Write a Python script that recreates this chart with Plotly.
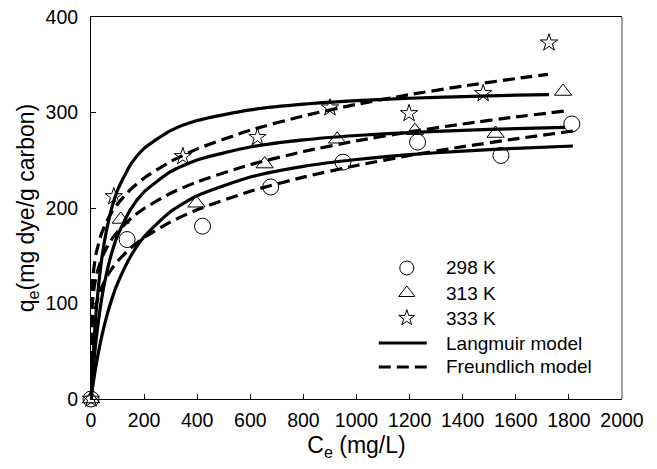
import plotly.graph_objects as go

# Experimental data (Ce mg/L, qe mg/g)
ce_298 = [0, 136, 420, 677, 949, 1230, 1544, 1811]
qe_298 = [0, 167, 181, 222, 248, 269, 255, 288]
ce_313 = [0, 112, 397, 654, 927, 1220, 1524, 1778]
qe_313 = [0, 188, 205, 246, 272, 281, 278, 322]
ce_333 = [0, 86, 346, 627, 900, 1198, 1477, 1725]
qe_333 = [0, 212, 254, 274, 305, 299, 320, 373]

# Model curves
cL = [0, 5, 10, 20, 40, 60, 80, 100, 150, 200, 300, 400, 600, 800, 1000, 1200, 1400, 1600]
L298 = [0, 10.2, 19.6, 36.7, 65.0, 87.5, 105.9, 121.1, 149.8, 169.9, 196.3, 212.8, 232.4, 243.6, 250.8, 255.9, 259.6, 262.5]
L313 = [0, 19.0, 35.7, 63.7, 104.8, 133.5, 154.8, 171.1, 199.1, 216.9, 238.1, 250.3, 263.9, 271.3, 275.9, 279.0, 281.3, 283.1]
L333 = [0, 29.8, 54.7, 93.7, 145.8, 178.9, 201.8, 218.7, 246, 262.4, 281.1, 291.6, 302.8, 308.7, 312.4, 314.9, 316.7, 318.1]
L_end_c = [1815, 1785, 1725]   # 298, 313, 333
L_end_q = [264.9, 284.4, 318.8]

cF = [0, 1, 2, 5, 10, 20, 40, 60, 80, 100, 150, 200, 300, 400, 600, 800, 1000, 1200, 1400, 1600]
F298 = [0, 50.1, 58.7, 72.5, 85.0, 99.6, 116.8, 128.2, 137.0, 144.2, 158.2, 169.0, 185.5, 198.2, 217.5, 232.3, 244.5, 255.0, 264.2, 272.4]
F313 = [0, 73.5, 83.8, 99.5, 113.4, 129.3, 147.3, 159.0, 167.9, 175.1, 189.0, 199.5, 215.4, 227.4, 245.4, 259.1, 270.3, 279.7, 288.0, 295.3]
F333 = [0, 89.7, 101.5, 119.6, 135.4, 153.3, 173.5, 186.5, 196.4, 204.3, 219.7, 231.3, 248.7, 261.9, 281.5, 296.4, 308.5, 318.7, 327.6, 335.5]
F_end_c = [1815, 1785, 1721]   # 298, 313, 333
F_end_q = [280.6, 301.5, 340]

legend_labels = ["298 K", "313 K", "333 K", "Langmuir model", "Freundlich model"]

FONT = "Liberation Sans, Arial, sans-serif"
DASH = "12px,6px"
LW = 3.2
fig = go.Figure()

L_curves = [L298, L313, L333]
F_curves = [F298, F313, F333]
for i in range(3):
    fig.add_trace(go.Scatter(x=cL + [L_end_c[i]], y=L_curves[i] + [L_end_q[i]], mode="lines",
                             line=dict(color="black", width=LW, shape="spline", smoothing=0.6),
                             showlegend=False, hoverinfo="skip"))
    fig.add_trace(go.Scatter(x=cF + [F_end_c[i]], y=F_curves[i] + [F_end_q[i]], mode="lines",
                             line=dict(color="black", width=LW, dash=DASH, shape="spline", smoothing=0.6),
                             showlegend=False, hoverinfo="skip"))

symbols = ["circle-open", "triangle-up-open", "star-open"]
sizes = [16, 15, 13]
for ce, qe, sym, sz in zip([ce_298, ce_313, ce_333], [qe_298, qe_313, qe_333], symbols, sizes):
    fig.add_trace(go.Scatter(x=ce, y=qe, mode="markers", cliponaxis=False, showlegend=False,
                             marker=dict(symbol=sym, size=sz, color="black", line=dict(width=1))))

# Hand-drawn legend on an overlay axis spanning the plot area (0..1)
leg_y = [0.343, 0.2775, 0.212, 0.1466, 0.0838]
mk_x = 0.5947
ln_x0, ln_x1 = 0.542, 0.6324
txt_x = 0.664
for k in range(3):
    fig.add_trace(go.Scatter(x=[mk_x], y=[leg_y[k]], xaxis="x2", yaxis="y2", mode="markers",
                             showlegend=False, hoverinfo="skip",
                             marker=dict(symbol=symbols[k], size=[14, 14, 12][k], color="black",
                                         line=dict(width=1))))
shapes = [dict(type="line", xref="paper", yref="paper", x0=1, x1=1, y0=0, y1=1,
               line=dict(color="gray", width=1.5))]
for k, dash in zip([3, 4], ["solid", DASH]):
    shapes.append(dict(type="line", xref="x2", yref="y2", x0=ln_x0, x1=ln_x1, y0=leg_y[k], y1=leg_y[k],
                       line=dict(color="black", width=LW, dash=dash)))
annotations = [dict(x=txt_x, y=leg_y[k], xref="x2", yref="y2", text=legend_labels[k], showarrow=False,
                    xanchor="left", yanchor="middle", font=dict(size=19, family=FONT, color="black"))
               for k in range(5)]

fig.update_layout(
    width=657, height=469,
    margin=dict(l=91, r=35, t=17, b=70),
    paper_bgcolor="white", plot_bgcolor="white",
    font=dict(family=FONT, size=19, color="black"),
    showlegend=False,
    xaxis=dict(range=[0, 2000], tickvals=list(range(0, 2001, 200)), ticks="inside", ticklen=5,
               tickcolor="black", showline=True, linecolor="black", linewidth=1, mirror=True,
               showgrid=False, zeroline=False, ticklabelstandoff=4, automargin=False,
               tickfont=dict(size=19.5),
               title=dict(text="C<sub>e</sub> (mg/L)", font=dict(size=23), standoff=6)),
    yaxis=dict(range=[0, 400], tickvals=[0, 100, 200, 300, 400], ticks="inside", ticklen=5,
               tickcolor="black", showline=True, linecolor="black", linewidth=1, mirror=False,
               showgrid=False, zeroline=False, ticklabelstandoff=8, automargin=False,
               tickfont=dict(size=19.5),
               title=dict(text="q<sub>e</sub>(mg dye/g carbon)", font=dict(size=23), standoff=4)),
    xaxis2=dict(range=[0, 1], overlaying="x", visible=False, fixedrange=True),
    yaxis2=dict(range=[0, 1], overlaying="y", visible=False, fixedrange=True),
    shapes=shapes,
    annotations=annotations,
)

fig.write_html("out.html", config={"displayModeBar": False},
               post_script="document.body.style.margin='0';")
